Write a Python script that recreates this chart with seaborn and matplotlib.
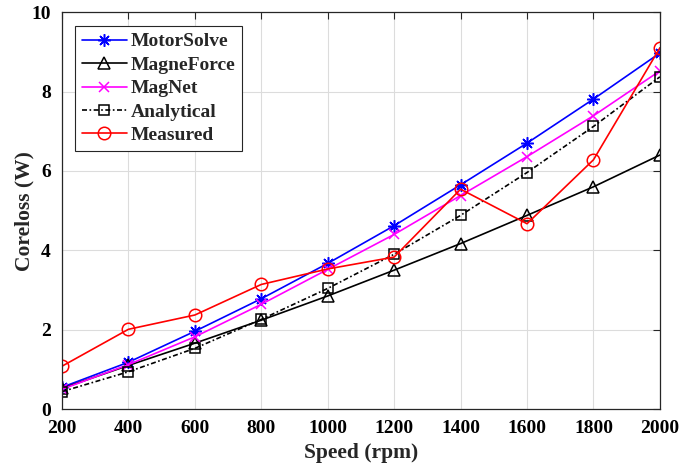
import numpy as np
import pandas as pd
import matplotlib.pyplot as plt
import seaborn as sns

speed = [200, 400, 600, 800, 1000, 1200, 1400, 1600, 1800, 2000]
motorsolve = [0.55, 1.18, 1.96, 2.78, 3.67, 4.62, 5.65, 6.70, 7.81, 8.97]
magneforce = [0.52, 1.10, 1.66, 2.24, 2.85, 3.50, 4.17, 4.88, 5.60, 6.40]
magnet = [0.50, 1.12, 1.82, 2.64, 3.52, 4.40, 5.38, 6.36, 7.39, 8.52]
analytical = [0.44, 0.94, 1.53, 2.26, 3.04, 3.90, 4.88, 5.96, 7.12, 8.37]
measured = [1.08, 2.01, 2.37, 3.14, 3.53, 3.83, 5.54, 4.67, 6.28, 9.10]

series = {
    'MotorSolve': motorsolve,
    'MagneForce': magneforce,
    'MagNet': magnet,
    'Analytical': analytical,
    'Measured': measured,
}
# MATLAB-like markers
styles = {
    'MotorSolve': dict(color='#0000ff', marker=(8, 2, 0), linestyle='-', mfc='#0000ff', ms=9),
    'MagneForce': dict(color='black', marker='^', linestyle='-', mfc='none', ms=9),
    'MagNet': dict(color='#ff00ff', marker='x', linestyle='-', mfc='#ff00ff', ms=7),
    'Analytical': dict(color='black', marker='s', linestyle=(0, (3, 1.5, 1, 1.5)), mfc='none', ms=6.5),
    'Measured': dict(color='#ff0000', marker='o', linestyle='-', mfc='none', ms=9),
}

df = pd.DataFrame({'Speed': speed, **series}).melt(id_vars='Speed', var_name='Model', value_name='Coreloss')

sns.set_style('whitegrid')
plt.rcParams['font.family'] = ['Liberation Serif', 'DejaVu Serif']
plt.rcParams['font.weight'] = 'bold'

fig = plt.figure(figsize=(6.81, 4.67), dpi=100)
ax = fig.add_axes([0.091, 0.124, 0.878, 0.850])

for name in series:
    st = styles[name]
    sns.lineplot(data=df[df['Model'] == name], x='Speed', y='Coreloss', ax=ax,
                 color=st['color'], marker=st['marker'], linestyle=st['linestyle'],
                 markerfacecolor=st['mfc'], markeredgecolor=st['color'], markersize=st['ms'],
                 markeredgewidth=1.1, linewidth=1.2, label=name)

ax.set_xlim(200, 2000)
ax.set_ylim(0, 10)
ax.set_xticks(range(200, 2001, 200))
ax.set_yticks(range(0, 11, 2))
ax.grid(True, color='#dcdcdc', linewidth=0.8)
for sp in ax.spines.values():
    sp.set_color('#262626')
    sp.set_linewidth(0.9)
ax.tick_params(direction='in', length=5, width=0.8, top=True, right=True, pad=8,
               labelsize=14, colors='#262626', labelcolor='black')
for lab in ax.get_xticklabels() + ax.get_yticklabels():
    lab.set_fontweight('bold')
ax.set_xlabel('Speed (rpm)', fontsize=15.5, fontweight='bold', labelpad=4)
ax.set_ylabel('Coreloss (W)', fontsize=15.5, fontweight='bold', labelpad=-2)

leg = ax.legend(loc='upper left', bbox_to_anchor=(0.022, 0.965), borderaxespad=0,
                prop={'weight': 'bold', 'size': 14},
                frameon=True, fancybox=False, framealpha=1, edgecolor='#262626',
                handlelength=2.3, handletextpad=0.2, borderpad=0.35, labelspacing=0.3)
leg.get_frame().set_linewidth(0.8)

fig.savefig('out.png', dpi=100)
